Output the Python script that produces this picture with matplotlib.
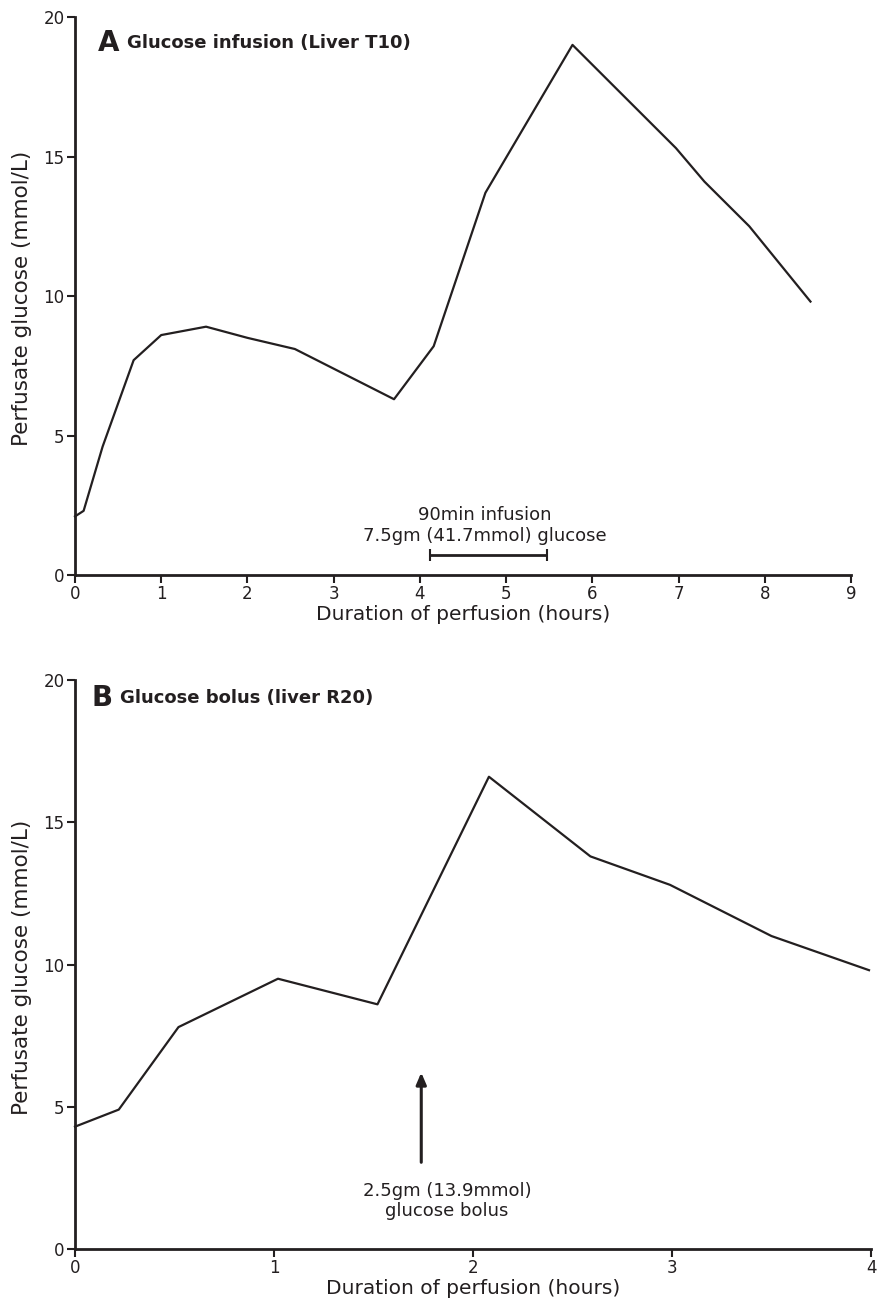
import matplotlib.pyplot as plt

# Panel A: glucose infusion, liver T10
hours_a = [0.0, 0.1, 0.32, 0.68, 1.0, 1.52, 2.0, 2.55, 3.7, 4.16, 4.76, 5.77, 6.97, 7.3, 7.82, 8.53]
glucose_a = [2.1, 2.3, 4.6, 7.7, 8.6, 8.9, 8.5, 8.1, 6.3, 8.2, 13.7, 19.0, 15.3, 14.1, 12.5, 9.8]
infusion_start, infusion_end = 4.12, 5.48

# Panel B: glucose bolus, liver R20
hours_b = [0.0, 0.22, 0.52, 1.02, 1.52, 2.08, 2.59, 2.99, 3.5, 3.99]
glucose_b = [4.3, 4.9, 7.8, 9.5, 8.6, 16.6, 13.8, 12.8, 11.0, 9.8]
bolus_time = 1.74

ink = '#231f20'
plt.rcParams['font.family'] = 'DejaVu Sans'

fig = plt.figure(figsize=(8.91, 13.08), dpi=100)
ax1 = fig.add_axes([75/891, 1 - 575/1308, 776/891, 558/1308])
ax2 = fig.add_axes([75/891, 1 - 1249/1308, 796/891, 569/1308])


def style(ax, xmax, xticks, width_px):
    ax.set_xlim(0, xmax)
    ax.set_ylim(0, 20)
    ax.set_xticks(xticks)
    ax.set_yticks([0, 5, 10, 15, 20])
    for s in ['top', 'right']:
        ax.spines[s].set_visible(False)
    for s in ['left', 'bottom']:
        ax.spines[s].set_linewidth(2)
        ax.spines[s].set_color(ink)
    ax.tick_params(direction='out', length=6, width=1.5, color=ink,
                   labelsize=12, labelcolor=ink, pad=1.5)
    ax.set_xlabel('Duration of perfusion (hours)', fontsize=14.5, color=ink, labelpad=1)
    ax.set_ylabel('Perfusate glucose (mmol/L)', fontsize=15.5, color=ink)
    ax.yaxis.set_label_coords(-43 / width_px, 0.495)
    for lab in ax.get_xticklabels() + ax.get_yticklabels():
        lab.set_clip_on(False)


style(ax1, 9, range(10), 776)
ax1.plot(hours_a, glucose_a, color=ink, lw=1.6, clip_on=False)
ax1.text(0.27, 19.07, 'A', fontsize=20, fontweight='bold', color=ink, va='center')
ax1.text(0.60, 19.07, 'Glucose infusion (Liver T10)', fontsize=13, fontweight='bold',
         color=ink, va='center')
ax1.errorbar([(infusion_start + infusion_end) / 2], [0.72],
             xerr=[[(infusion_end - infusion_start) / 2]], fmt='none',
             ecolor=ink, elinewidth=2, capsize=4.5, capthick=1.5)
ax1.text(4.75, 1.76, '90min infusion\n7.5gm (41.7mmol) glucose', ha='center', va='center',
         fontsize=13, color=ink, linespacing=1.2)

style(ax2, 4, range(5), 796)
ax2.plot(hours_b, glucose_b, color=ink, lw=1.6, clip_on=False)
ax2.text(0.085, 19.37, 'B', fontsize=20, fontweight='bold', color=ink, va='center')
ax2.text(0.226, 19.37, 'Glucose bolus (liver R20)', fontsize=13, fontweight='bold',
         color=ink, va='center')
ax2.annotate('', xy=(bolus_time, 6.3), xytext=(bolus_time, 2.95),
             arrowprops=dict(arrowstyle='-|>,head_length=0.7,head_width=0.3',
                             color=ink, lw=2.2))
ax2.text(1.87, 1.69, '2.5gm (13.9mmol)\nglucose bolus', ha='center', va='center',
         fontsize=13, color=ink, linespacing=1.2)

fig.savefig('out.png', dpi=100)
